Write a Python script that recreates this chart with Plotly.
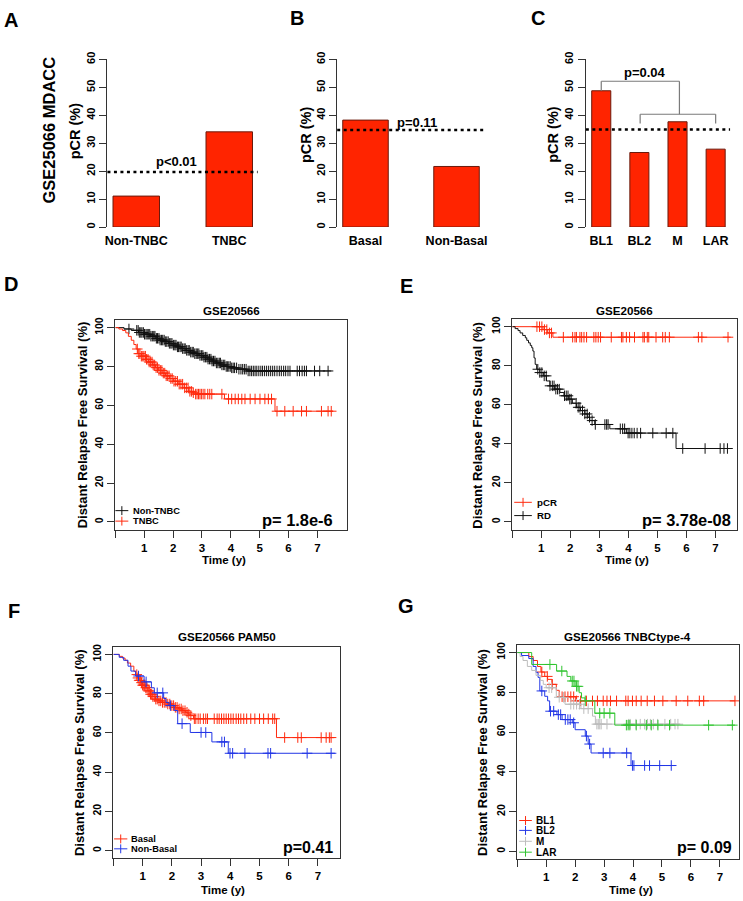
import numpy as np
import plotly.graph_objects as go

# ---------------- data ----------------
# Panels A-C : pCR rates (%)
a_groups = ["Non-TNBC", "TNBC"]
a_pcr = [11.1, 34.1]
a_ref = 19.7
a_ptext = "p<0.01"

b_groups = ["Basal", "Non-Basal"]
b_pcr = [38.3, 21.7]
b_ref = 34.8
b_ptext = "p=0.11"

c_groups = ["BL1", "BL2", "M", "LAR"]
c_pcr = [48.8, 26.7, 37.7, 27.9]
c_ref = 34.9
c_ptext = "p=0.04"

# Panel D : GSE20566, Non-TNBC vs TNBC (time in years, survival in %)
d_non_t = [0, 0.3, 0.55, 0.8, 1.0, 1.2, 1.4, 1.55, 1.7, 1.85, 2.0, 2.15, 2.3, 2.45, 2.6, 2.75,
           2.9, 3.05, 3.2, 3.35, 3.5, 3.65, 3.8, 4.0, 4.25, 4.55, 7.48]
d_non_s = [100, 99.3, 98.6, 97.5, 96.6, 95.6, 94.5, 93.6, 92.8, 91.9, 91.0, 90.1, 89.2, 88.3, 87.4,
           86.6, 85.7, 84.8, 83.8, 82.8, 81.8, 80.8, 80.0, 79.3, 78.6, 77.7, 77.7]
d_non_c = [0.47, 0.74, 0.79, 0.83, 0.88, 0.92, 0.97, 1.01, 1.06, 1.1, 1.14, 1.19, 1.23, 1.28, 1.33,
           1.37, 1.42, 1.46, 1.51, 1.55, 1.6, 1.64, 1.69, 1.73, 1.78, 1.83, 1.87, 1.92, 1.96, 2.01,
           2.06, 2.1, 2.15, 2.19, 2.24, 2.28, 2.33, 2.38, 2.42, 2.47, 2.52, 2.56, 2.61, 2.66, 2.7,
           2.75, 2.8, 2.84, 2.89, 2.93, 2.98, 3.03, 3.07, 3.12, 3.17, 3.21, 3.26, 3.31, 3.35, 3.4,
           3.45, 3.5, 3.55, 3.6, 3.64, 3.69, 3.74, 3.79, 3.84, 3.88, 3.93, 3.98, 4.03, 4.08, 4.13,
           4.2, 4.28, 4.35, 4.41, 4.47, 4.53, 4.6, 4.66, 4.72, 4.78, 4.84, 4.9, 4.97, 5.04, 5.1,
           5.17, 5.24, 5.31, 5.38, 5.45, 5.52, 5.6, 5.68, 5.75, 5.83, 5.9, 5.98, 6.05, 6.3, 6.38,
           6.47, 6.55, 6.62, 6.9, 7.08, 7.37]
d_tnbc_t = [0, 0.12, 0.25, 0.36, 0.45, 0.55, 0.64, 0.72, 0.78, 0.9, 1.05, 1.15, 1.28, 1.39, 1.5,
            1.62, 1.74, 1.88, 2.02, 2.2, 2.38, 2.54, 2.66, 2.77, 3.78, 5.53, 7.54]
d_tnbc_s = [100, 99.3, 98.5, 97.3, 95.5, 93.5, 91.3, 89, 86.6, 85.3, 83.7, 82.3, 80.8, 79.4, 78,
            76.6, 75.2, 73.8, 72.4, 70.9, 69, 67.2, 66.5, 65.8, 63.3, 57, 57]
d_tnbc_c = [0.76, 0.81, 0.85, 0.9, 0.95, 0.99, 1.04, 1.08, 1.13, 1.17, 1.22, 1.27, 1.31, 1.36, 1.41,
            1.46, 1.51, 1.56, 1.61, 1.66, 1.71, 1.76, 1.81, 1.86, 1.92, 1.97, 2.03, 2.09, 2.15, 2.21,
            2.27, 2.33, 2.4, 2.46, 2.52, 2.58, 2.64, 2.7, 2.78, 2.83, 2.88, 2.93, 2.98, 3.04, 3.1,
            3.2, 3.27, 3.34, 3.69, 3.92, 4.03, 4.15, 4.26, 4.38, 4.49, 4.67, 4.84, 5.01, 5.18, 5.3,
            5.41, 5.6, 5.87, 6.16, 6.45, 6.62, 7.14, 7.37, 7.48]
d_ptext = "p= 1.8e-6"

# Panel E : GSE20566, pCR vs RD
e_pcr_t = [0, 1.06, 1.22, 1.4, 7.52]
e_pcr_s = [100, 98.5, 96.8, 94.6, 94.6]
e_pcr_c = [0.85, 0.94, 1.02, 1.11, 1.19, 1.28, 1.35, 1.76, 2.08, 2.16, 2.21, 2.33, 2.39, 2.47, 2.56,
           2.81, 2.88, 2.96, 3.04, 3.41, 3.76, 3.81, 3.93, 4.04, 4.21, 4.5, 4.55, 4.65, 4.7, 4.95,
           5.18, 5.27, 5.41, 6.41, 6.53, 7.43]
e_rd_t = [0, 0.1, 0.2, 0.27, 0.36, 0.45, 0.5, 0.56, 0.62, 0.67, 0.71, 0.75, 0.79, 0.84, 0.95, 1.07,
          1.18, 1.3, 1.45, 1.64, 1.78, 1.93, 2.07, 2.21, 2.35, 2.5, 2.6, 2.67, 2.84, 3.36, 3.93,
          5.64, 7.58]
e_rd_s = [100, 99, 98, 96.8, 95.5, 94.3, 93, 91.7, 90.4, 89.2, 87.5, 84, 80.7, 78.2, 76.5, 74.8,
          72.2, 69.7, 68, 66.3, 64.6, 62.9, 60.8, 58.7, 57, 55.3, 53.6, 51.9, 49.9, 47.7, 45.5,
          37.6, 37.6]
e_rd_c = [0.88, 0.95, 1.02, 1.1, 1.17, 1.3, 1.38, 1.44, 1.5, 1.56, 1.62, 1.8, 1.86, 1.92, 1.98,
          2.03, 2.2, 2.27, 2.33, 2.42, 2.5, 2.58, 2.66, 2.75, 2.86, 3.19, 3.25, 3.3, 3.72, 3.8,
          3.87, 3.99, 4.05, 4.12, 4.2, 4.3, 4.42, 4.84, 5.3, 5.53, 5.87, 6.64, 7.16, 7.29, 7.41]
e_ptext = "p= 3.78e-08"

# Panel F : GSE20566 PAM50, Basal vs Non-Basal
f_bas_t = [0, 0.2, 0.31, 0.4, 0.48, 0.59, 0.7, 0.76, 0.82, 0.88, 0.93, 1.0, 1.1, 1.18, 1.27, 1.35,
           1.44, 1.55, 1.67, 1.85, 2.0, 2.12, 2.23, 2.35, 2.46, 2.55, 2.63, 2.74, 5.58, 7.55]
f_bas_s = [100, 99, 98.1, 97, 95.6, 94, 91.4, 89.7, 88, 86.8, 85.6, 84.3, 83, 81.4, 79.7, 78.5,
           77.2, 76.3, 75.5, 74.7, 73.9, 73, 72.2, 71.3, 70.5, 69.6, 68.8, 67.2, 57.6, 57.6]
f_bas_c = [0.8, 0.84, 0.88, 0.92, 0.96, 1.0, 1.04, 1.07, 1.11, 1.15, 1.19, 1.23, 1.27, 1.31, 1.35,
           1.4, 1.45, 1.5, 1.56, 1.62, 1.68, 1.74, 1.8, 1.86, 1.93, 2.0, 2.06, 2.12, 2.18, 2.25,
           2.32, 2.38, 2.45, 2.52, 2.58, 2.65, 2.77, 2.82, 2.9, 2.97, 3.08, 3.16, 3.22, 3.45, 3.55,
           3.62, 3.7, 3.78, 3.86, 3.94, 4.02, 4.1, 4.2, 4.28, 4.36, 4.46, 4.56, 4.7, 4.84, 5.0,
           5.14, 5.3, 5.45, 5.52, 5.86, 6.31, 6.43, 7.11, 7.28, 7.39, 7.45]
f_non_t = [0, 0.2, 0.35, 0.5, 0.6, 0.76, 1.05, 1.3, 1.4, 1.72, 1.8, 1.9, 2.08, 2.2, 2.63, 3.37,
           3.93, 7.58]
f_non_s = [100, 98.5, 97, 94, 91.5, 89, 86, 83, 80.4, 77.5, 75.5, 73.9, 71.4, 64.7, 60.2, 55.4,
           49.6, 49.6]
f_non_c = [0.86, 1.12, 1.5, 1.69, 1.95, 2.35, 3.0, 3.16, 3.71, 3.8, 3.99, 4.08, 4.5, 5.29, 5.38,
           6.63, 7.45]
f_ptext = "p=0.41"

# Panel G : GSE20566 TNBCtype-4
g_bl1_t = [0, 0.4, 0.55, 0.7, 0.82, 0.95, 1.05, 1.2, 1.35, 1.45, 2.02, 7.52]
g_bl1_s = [100, 98, 96, 93, 90.2, 88, 86.5, 84, 81, 77.8, 75.7, 75.7]
g_bl1_c = [0.85, 1.04, 1.21, 1.55, 1.65, 1.75, 1.85, 1.95, 2.05, 2.19, 2.39, 2.6, 2.77, 2.97, 3.1,
           3.22, 3.43, 3.75, 3.83, 3.98, 4.11, 4.28, 4.49, 4.74, 5.03, 5.49, 5.89, 6.29, 6.44, 7.52]
g_bl2_t = [0, 0.15, 0.4, 0.55, 0.65, 0.72, 0.78, 0.95, 1.05, 1.12, 1.37, 1.55, 1.9, 2.0, 2.35,
           2.45, 2.55, 3.93, 5.45]
g_bl2_s = [100, 98.5, 97, 93, 90, 87.5, 80.7, 78, 75.7, 70.5, 68.8, 66.3, 64.7, 61.2, 58, 54,
           49.5, 43.2, 43.2]
g_bl2_c = [0.85, 1.15, 1.26, 1.42, 1.5, 1.66, 1.75, 1.83, 1.95, 2.39, 2.5, 2.97, 3.2, 3.78, 3.98,
           4.03, 4.4, 4.57, 4.92, 5.32]
g_m_t = [0, 0.1, 0.2, 0.35, 0.5, 0.65, 0.8, 0.9, 1.0, 1.35, 1.65, 2.2, 2.6, 2.7, 5.6]
g_m_s = [100, 98, 96, 93, 91, 88.5, 86, 84, 82.3, 77.5, 74, 71.8, 68, 64, 64]
g_m_c = [1.1, 1.19, 1.45, 1.6, 1.85, 1.95, 2.05, 2.15, 2.3, 2.45, 2.75, 2.8, 2.85, 2.9, 3.1, 3.85,
         3.9, 4.1, 4.25, 4.4, 4.5, 4.6, 4.7, 4.85, 5.1, 5.3, 5.45, 5.55]
g_lar_t = [0, 0.5, 1.36, 1.72, 1.85, 2.0, 2.14, 2.22, 2.34, 2.68, 3.37, 7.52]
g_lar_s = [100, 94, 90.7, 88, 85.7, 83, 79.8, 77.2, 75.7, 69.5, 63.5, 63.5]
g_lar_c = [1.13, 1.54, 1.9, 1.96, 2.05, 2.1, 2.35, 2.85, 3.0, 3.2, 3.77, 3.83, 3.89, 4.11, 4.46,
           4.63, 4.86, 5.26, 6.61, 7.43]
g_ptext = "p= 0.09"

year_ticks = [0, 1, 2, 3, 4, 5, 6, 7]
year_labels = ["", "1", "2", "3", "4", "5", "6", "7"]
surv_ticks = [0, 20, 40, 60, 80, 100]
pcr_ticks = [0, 10, 20, 30, 40, 50, 60]

# ---------------- styling ----------------
W, H = 743, 901
FONT = "Liberation Sans, Arial, sans-serif"
RED = "#ff2a0e"
BLUE = "#2236e6"
GREEN = "#2fc42f"
GRAY = "#bdbdbd"
BLACK = "#111111"
BAR = "#ff2400"
BAR_EDGE = "#6a1a0c"
AX = "#333333"


def fx(px):
    return px / W


def fy(py):
    return 1 - py / H


def bfont(size, color="black"):
    return dict(family=FONT, size=size, color=color, weight="bold")


fig = go.Figure()
annotations = []
shapes = []


def ann(text, x, y, size, xanchor="center", angle=0, yanchor="middle"):
    annotations.append(dict(text=text, x=fx(x), y=fy(y), xref="paper", yref="paper",
                            showarrow=False, font=bfont(size), xanchor=xanchor,
                            yanchor=yanchor, textangle=angle))


# ---------------- bar panels ----------------
def bar_panel(idx, groups, vals, ref, dom_px, rng, ptext, pxy):
    sfx = "" if idx == 1 else str(idx)
    fig.add_trace(go.Bar(x=groups, y=vals, width=0.5,
                         marker=dict(color=BAR, line=dict(color=BAR_EDGE, width=1)),
                         xaxis="x" + sfx, yaxis="y" + sfx, showlegend=False, hoverinfo="skip"))
    shapes.append(dict(type="line", xref="x%s domain" % sfx, yref="y" + sfx, x0=0, x1=1,
                       y0=ref, y1=ref, line=dict(color="black", width=2.5, dash="3px,3.5px")))
    annotations.append(dict(text=ptext, x=pxy[0], y=pxy[1], xref="x" + sfx, yref="y" + sfx,
                            showarrow=False, font=bfont(13), xanchor="center", yanchor="middle"))
    fig.layout["xaxis" + sfx] = dict(domain=[fx(dom_px[0]), fx(dom_px[1])], range=rng,
                                     type="category", anchor="y" + sfx, showline=False,
                                     ticks="", showgrid=False, zeroline=False,
                                     tickfont=bfont(12.5), ticklabelstandoff=4)
    fig.layout["yaxis" + sfx] = dict(domain=[fy(221.3), fy(52)], range=[0, 60],
                                     anchor="x" + sfx, tickvals=pcr_ticks, tickangle=-90,
                                     ticks="outside", ticklen=7, tickcolor=AX, showline=True,
                                     linecolor=AX, linewidth=1, showgrid=False, zeroline=False,
                                     tickfont=bfont(11))


bar_panel(1, a_groups, a_pcr, a_ref, (105, 256), [-0.31, 1.305], a_ptext, (0.43, 23.4))
bar_panel(2, b_groups, b_pcr, b_ref, (336, 486), [-0.311, 1.328], b_ptext, (0.57, 37.6))
bar_panel(3, c_groups, c_pcr, c_ref, (586, 731), [-0.404, 3.378], c_ptext, (1.15, 55.4))

# bracket in panel C (BL1 vs the other subtypes)
br = dict(color="#7a7a7a", width=1.2)
for x0, y0, x1, y1 in [(0, c_pcr[0], 0, 52.2), (0, 52.2, 2.05, 52.2), (2.05, 52.2, 2.05, 40.4),
                       (1.02, 40.4, 3.0, 40.4), (1.02, 40.4, 1.02, 37.1), (3.0, 40.4, 3.0, 37.1)]:
    shapes.append(dict(type="line", xref="x3", yref="y3", x0=x0, y0=y0, x1=x1, y1=y1, line=br))

ann("pCR (%)", 72, 124, 14.5, angle=-90)
ann("pCR (%)", 304, 128, 14.5, angle=-90)
ann("pCR (%)", 553, 128, 14.5, angle=-90)
ann("GSE25066 MDACC", 46, 123, 16.5, angle=-90)


# ---------------- survival panels ----------------
def km(idx, t, s, cens, color):
    sfx = str(idx)
    t = np.asarray(t, float)
    s = np.asarray(s, float)
    fig.add_trace(go.Scatter(x=t, y=s, mode="lines", line=dict(color=color, width=1, shape="hv"),
                             xaxis="x" + sfx, yaxis="y" + sfx, showlegend=False,
                             hoverinfo="skip"))
    c = np.asarray(cens, float)
    cy = s[np.searchsorted(t, c, side="right") - 1]
    fig.add_trace(go.Scatter(x=c, y=cy, mode="markers",
                             marker=dict(symbol="cross-thin", size=7.5,
                                         line=dict(color=color, width=1)),
                             xaxis="x" + sfx, yaxis="y" + sfx, showlegend=False,
                             hoverinfo="skip"))


def surv_axes(idx, xdom, ydom, xmax):
    sfx = str(idx)
    fig.layout["xaxis" + sfx] = dict(domain=[fx(xdom[0]), fx(xdom[1])], range=[0, xmax],
                                     anchor="y" + sfx, tickvals=year_ticks, ticktext=year_labels,
                                     ticks="outside", ticklen=7, tickcolor=AX, showline=True,
                                     mirror=True, linecolor=AX, linewidth=1, showgrid=False,
                                     zeroline=False, tickfont=bfont(11.5))
    fig.layout["yaxis" + sfx] = dict(domain=[fy(ydom[1]), fy(ydom[0])], range=[-4, 104],
                                     anchor="x" + sfx, tickvals=surv_ticks, tickangle=-90,
                                     ticks="outside", ticklen=7, tickcolor=AX, showline=True,
                                     mirror=True, linecolor=AX, linewidth=1, showgrid=False,
                                     zeroline=False, tickfont=bfont(10.5))


def legend(items, xline, xtext, size):
    for label, color, y in items:
        shapes.append(dict(type="line", xref="paper", yref="paper", x0=fx(xline[0]),
                           x1=fx(xline[1]), y0=fy(y), y1=fy(y), line=dict(color=color, width=1)))
        xc = (xline[0] + xline[1]) / 2
        shapes.append(dict(type="line", xref="paper", yref="paper", x0=fx(xc), x1=fx(xc),
                           y0=fy(y - 4.5), y1=fy(y + 4.5), line=dict(color=color, width=1)))
        ann(label, xtext, y, size, xanchor="left")


# D
surv_axes(4, (113, 346), (315, 527), 8.03)
km(4, d_non_t, d_non_s, d_non_c, BLACK)
km(4, d_tnbc_t, d_tnbc_s, d_tnbc_c, RED)
legend([("Non-TNBC", BLACK, 507.7), ("TNBC", RED, 518.3)], (113, 126), 129, 9.3)
ann(d_ptext, 334, 516.7, 16.4, xanchor="right")
ann("GSE20566", 229.5, 306, 11.6)
ann("Distant Relapse Free Survival (%)", 80, 421, 13, angle=-90)
ann("Time (y)", 222, 558, 11.5)

# E
surv_axes(5, (512, 738), (314, 527), 7.74)
km(5, e_pcr_t, e_pcr_s, e_pcr_c, RED)
km(5, e_rd_t, e_rd_s, e_rd_c, BLACK)
legend([("pCR", RED, 499.3), ("RD", BLACK, 512.7)], (514, 531.7), 535, 9.7)
ann(e_ptext, 734, 516.7, 16.4, xanchor="right")
ann("GSE20566", 625, 306, 11.6)
ann("Distant Relapse Free Survival (%)", 477.5, 421, 13, angle=-90)
ann("Time (y)", 627, 558, 11.5)

# F
surv_axes(6, (111, 339), (645, 859), 7.76)
km(6, f_bas_t, f_bas_s, f_bas_c, RED)
km(6, f_non_t, f_non_s, f_non_c, BLUE)
legend([("Basal", RED, 839.3), ("Non-Basal", BLUE, 849.3)], (111.7, 125), 126.7, 9.3)
ann(f_ptext, 334, 848, 16, xanchor="right")
ann("GSE20566 PAM50", 225, 635, 11.6)
ann("Distant Relapse Free Survival (%)", 77, 752, 13, angle=-90)
ann("Time (y)", 221, 891, 11.5)

# G
surv_axes(7, (517, 740), (643, 860), 7.66)
km(7, g_bl1_t, g_bl1_s, g_bl1_c, RED)
km(7, g_bl2_t, g_bl2_s, g_bl2_c, BLUE)
km(7, g_m_t, g_m_s, g_m_c, GRAY)
km(7, g_lar_t, g_lar_s, g_lar_c, GREEN)
legend([("BL1", RED, 820.7), ("BL2", BLUE, 830.7), ("M", GRAY, 841.7), ("LAR", GREEN, 852.7)],
       (519, 531.7), 534, 10)
ann(g_ptext, 735, 848, 16, xanchor="right")
ann("GSE20566 TNBCtype-4", 628, 635, 11.6)
ann("Distant Relapse Free Survival (%)", 482, 752, 13, angle=-90)
ann("Time (y)", 631, 891, 11.5)

# panel letters
for letter, x, y in [("A", 8, 12), ("B", 295.5, 10), ("C", 538, 10), ("D", 8, 279),
                     ("E", 405.5, 280.5), ("F", 11, 609), ("G", 405, 604)]:
    ann(letter, x, y, 20)

fig.update_layout(width=W, height=H, margin=dict(l=0, r=0, t=0, b=0),
                  paper_bgcolor="white", plot_bgcolor="white", showlegend=False,
                  annotations=annotations, shapes=shapes, hovermode=False)

fig.write_html("out.html", config={"displayModeBar": False},
               post_script="document.body.style.margin='0';document.body.style.overflow='hidden';")
